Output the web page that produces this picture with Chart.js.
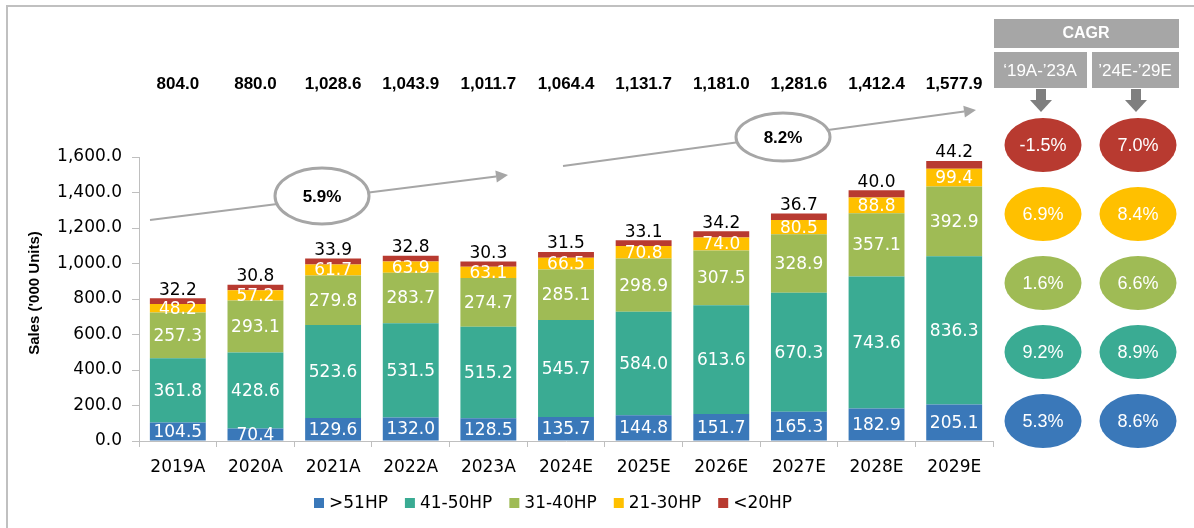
<!DOCTYPE html>
<html>
<head>
<meta charset="utf-8">
<script src="https://cdn.jsdelivr.net/npm/chart.js@4/dist/chart.umd.min.js"></script>
<style>
  body { margin: 0; background: #fff; }
  #wrap { width: 1194px; height: 528px; position: relative; }
</style>
</head>
<body>
<div id="wrap"><canvas id="salesChart" width="1194" height="528"></canvas></div>
<script>
// chart values
let years = ["2019A", "2020A", "2021A", "2022A", "2023A", "2024E", "2025E", "2026E", "2027E", "2028E", "2029E"];
let above51 = [104.5, 70.4, 129.6, 132.0, 128.5, 135.7, 144.8, 151.7, 165.3, 182.9, 205.1];
let hp41to50 = [361.8, 428.6, 523.6, 531.5, 515.2, 545.7, 584.0, 613.6, 670.3, 743.6, 836.3];
let hp31to40 = [257.3, 293.1, 279.8, 283.7, 274.7, 285.1, 298.9, 307.5, 328.9, 357.1, 392.9];
let hp21to30 = [48.2, 57.2, 61.7, 63.9, 63.1, 66.5, 70.8, 74.0, 80.5, 88.8, 99.4];
let below20 = [32.2, 30.8, 33.9, 32.8, 30.3, 31.5, 33.1, 34.2, 36.7, 40.0, 44.2];
let totals = [804.0, 880.0, 1028.6, 1043.9, 1011.7, 1064.4, 1131.7, 1181.0, 1281.6, 1412.4, 1577.9];

let seriesNames = [">51HP", "41-50HP", "31-40HP", "21-30HP", "<20HP"];
let seriesColors = ["#3a78b9", "#3aab93", "#9fbb55", "#ffc000", "#b83a30"];

// CAGR panel, top row first (<20HP ... >51HP)
let cagrPeriods = ["\u201819A-\u201923A", "\u201924E-\u201929E"];
let cagrFirst = ["-1.5%", "6.9%", "1.6%", "9.2%", "5.3%"];
let cagrSecond = ["7.0%", "8.4%", "6.6%", "8.9%", "8.6%"];
let cagrColors = ["#b83a30", "#ffc000", "#9fbb55", "#3aab93", "#3a78b9"];
let trendLabels = ["5.9%", "8.2%"];

const FONT = "'DejaVu Sans', sans-serif";
const NARROW = "'Liberation Sans', Arial, sans-serif";

function fmt(v) {
    return v.toLocaleString("en-US", { minimumFractionDigits: 1, maximumFractionDigits: 1 });
}

let seriesValues = [above51, hp41to50, hp31to40, hp21to30, below20];

let datasets = seriesValues.map((vals, i) => ({
    label: seriesNames[i],
    data: vals,
    backgroundColor: seriesColors[i],
    borderWidth: 0,
    barPercentage: 0.72,
    categoryPercentage: 1
}));

function arrowLine(ctx, x1, y1, x2, y2) {
    let ang = Math.atan2(y2 - y1, x2 - x1);
    let len = 12, half = 6;
    let bx = x2 - len * Math.cos(ang), by = y2 - len * Math.sin(ang);
    ctx.strokeStyle = "#a6a6a6";
    ctx.lineWidth = 2;
    ctx.beginPath();
    ctx.moveTo(x1, y1);
    ctx.lineTo(bx, by);
    ctx.stroke();
    ctx.fillStyle = "#a6a6a6";
    ctx.beginPath();
    ctx.moveTo(x2, y2);
    ctx.lineTo(bx + half * Math.sin(ang), by - half * Math.cos(ang));
    ctx.lineTo(bx - half * Math.sin(ang), by + half * Math.cos(ang));
    ctx.closePath();
    ctx.fill();
}

function ellipseLabel(ctx, cx, cy, rx, ry, text) {
    ctx.fillStyle = "#fff";
    ctx.strokeStyle = "#a6a6a6";
    ctx.lineWidth = 3;
    ctx.beginPath();
    ctx.ellipse(cx, cy, rx, ry, 0, 0, Math.PI * 2);
    ctx.fill();
    ctx.stroke();
    ctx.fillStyle = "#000";
    ctx.font = "bold 17px " + NARROW;
    ctx.textAlign = "center";
    ctx.textBaseline = "middle";
    ctx.fillText(text, cx, cy + 1);
}

function downArrow(ctx, cx) {
    ctx.fillStyle = "#7f7f7f";
    ctx.fillRect(cx - 5, 89, 10, 12);
    ctx.beginPath();
    ctx.moveTo(cx - 11, 100);
    ctx.lineTo(cx + 11, 100);
    ctx.lineTo(cx, 112);
    ctx.closePath();
    ctx.fill();
}

const extras = {
    id: "extras",
    afterDraw(chart) {
        let ctx = chart.ctx;
        ctx.save();

        // frame
        ctx.strokeStyle = "#c0c0c0";
        ctx.lineWidth = 2;
        ctx.beginPath();
        ctx.moveTo(7, 528);
        ctx.lineTo(7, 6);
        ctx.lineTo(1194, 6);
        ctx.stroke();

        // labels inside and above the bars
        chart.data.datasets.forEach((ds, di) => {
            let meta = chart.getDatasetMeta(di);
            meta.data.forEach((bar, i) => {
                let v = ds.data[i];
                ctx.font = "17px " + FONT;
                ctx.textAlign = "center";
                ctx.textBaseline = "middle";
                if (di === 4) {
                    ctx.fillStyle = "#000";
                    ctx.fillText(fmt(v), bar.x, bar.y - 8);
                } else {
                    ctx.fillStyle = "#fff";
                    ctx.fillText(fmt(v), bar.x, (bar.y + bar.base) / 2 + 1);
                }
            });
        });

        // totals row
        let xs = chart.scales.x;
        ctx.fillStyle = "#000";
        ctx.font = "bold 17px " + NARROW;
        totals.forEach((t, i) => {
            ctx.fillText(fmt(t), xs.getPixelForValue(i), 84);
        });

        // y axis title
        ctx.save();
        ctx.translate(35, 293);
        ctx.rotate(-Math.PI / 2);
        ctx.font = "bold 15px " + NARROW;
        ctx.fillText("Sales ('000 Units)", 0, 0);
        ctx.restore();

        // growth arrows
        arrowLine(ctx, 150, 220, 508, 175);
        arrowLine(ctx, 563, 166, 976, 110);
        ellipseLabel(ctx, 322, 196, 47, 28, trendLabels[0]);
        ellipseLabel(ctx, 783, 137, 47, 24, trendLabels[1]);

        // legend
        ctx.font = "17px " + FONT;
        ctx.textAlign = "left";
        ctx.textBaseline = "middle";
        let lx = 314;
        seriesNames.forEach((name, i) => {
            ctx.fillStyle = seriesColors[i];
            ctx.fillRect(lx, 498, 10, 10);
            ctx.fillStyle = "#000";
            ctx.fillText(name, lx + 15, 504);
            lx += 15 + ctx.measureText(name).width + 17;
        });

        // CAGR panel
        ctx.fillStyle = "#a6a6a6";
        ctx.fillRect(994, 19, 185, 29);
        ctx.fillRect(994, 52, 93, 36);
        ctx.fillRect(1092, 52, 87, 36);
        ctx.fillStyle = "#fff";
        ctx.textAlign = "center";
        ctx.font = "bold 16px " + NARROW;
        ctx.fillText("CAGR", 1086, 34);
        ctx.font = "17px " + NARROW;
        ctx.fillText(cagrPeriods[0], 1040, 71);
        ctx.fillText(cagrPeriods[1], 1135, 71);
        downArrow(ctx, 1041);
        downArrow(ctx, 1136);

        cagrColors.forEach((c, i) => {
            let cy = 145 + i * 69;
            [[1043, cagrFirst[i]], [1138, cagrSecond[i]]].forEach(([cx, txt]) => {
                ctx.fillStyle = c;
                ctx.beginPath();
                ctx.ellipse(cx, cy, 38.5, 27, 0, 0, Math.PI * 2);
                ctx.fill();
                ctx.fillStyle = "#fff";
                ctx.font = "18px " + NARROW;
                ctx.fillText(txt, cx, cy + 1);
            });
        });

        ctx.restore();
    }
};

let salesChart = new Chart(document.getElementById("salesChart"), {
    type: "bar",
    data: { labels: years, datasets: datasets },
    options: {
        responsive: false,
        devicePixelRatio: 1,
        animation: false,
        layout: { padding: { top: 157, left: 0, right: 201, bottom: 47 } },
        plugins: {
            legend: { display: false },
            tooltip: { enabled: false }
        },
        scales: {
            x: {
                stacked: true,
                afterFit: s => { s.height = 40; },
                grid: { drawOnChartArea: false, tickLength: 6, color: "#bfbfbf", offset: true },
                border: { color: "#bfbfbf", width: 1 },
                ticks: { color: "#000", padding: 10, font: { family: FONT, size: 17 } }
            },
            y: {
                stacked: true,
                min: 0,
                max: 1600,
                afterFit: s => { s.width = 139; },
                grid: { drawOnChartArea: false, tickLength: 7, color: "#bfbfbf" },
                border: { color: "#bfbfbf", width: 1 },
                ticks: {
                    stepSize: 200,
                    color: "#000",
                    padding: 10,
                    font: { family: FONT, size: 17 },
                    callback: v => fmt(v)
                }
            }
        }
    },
    plugins: [extras]
});
</script>
</body>
</html>
